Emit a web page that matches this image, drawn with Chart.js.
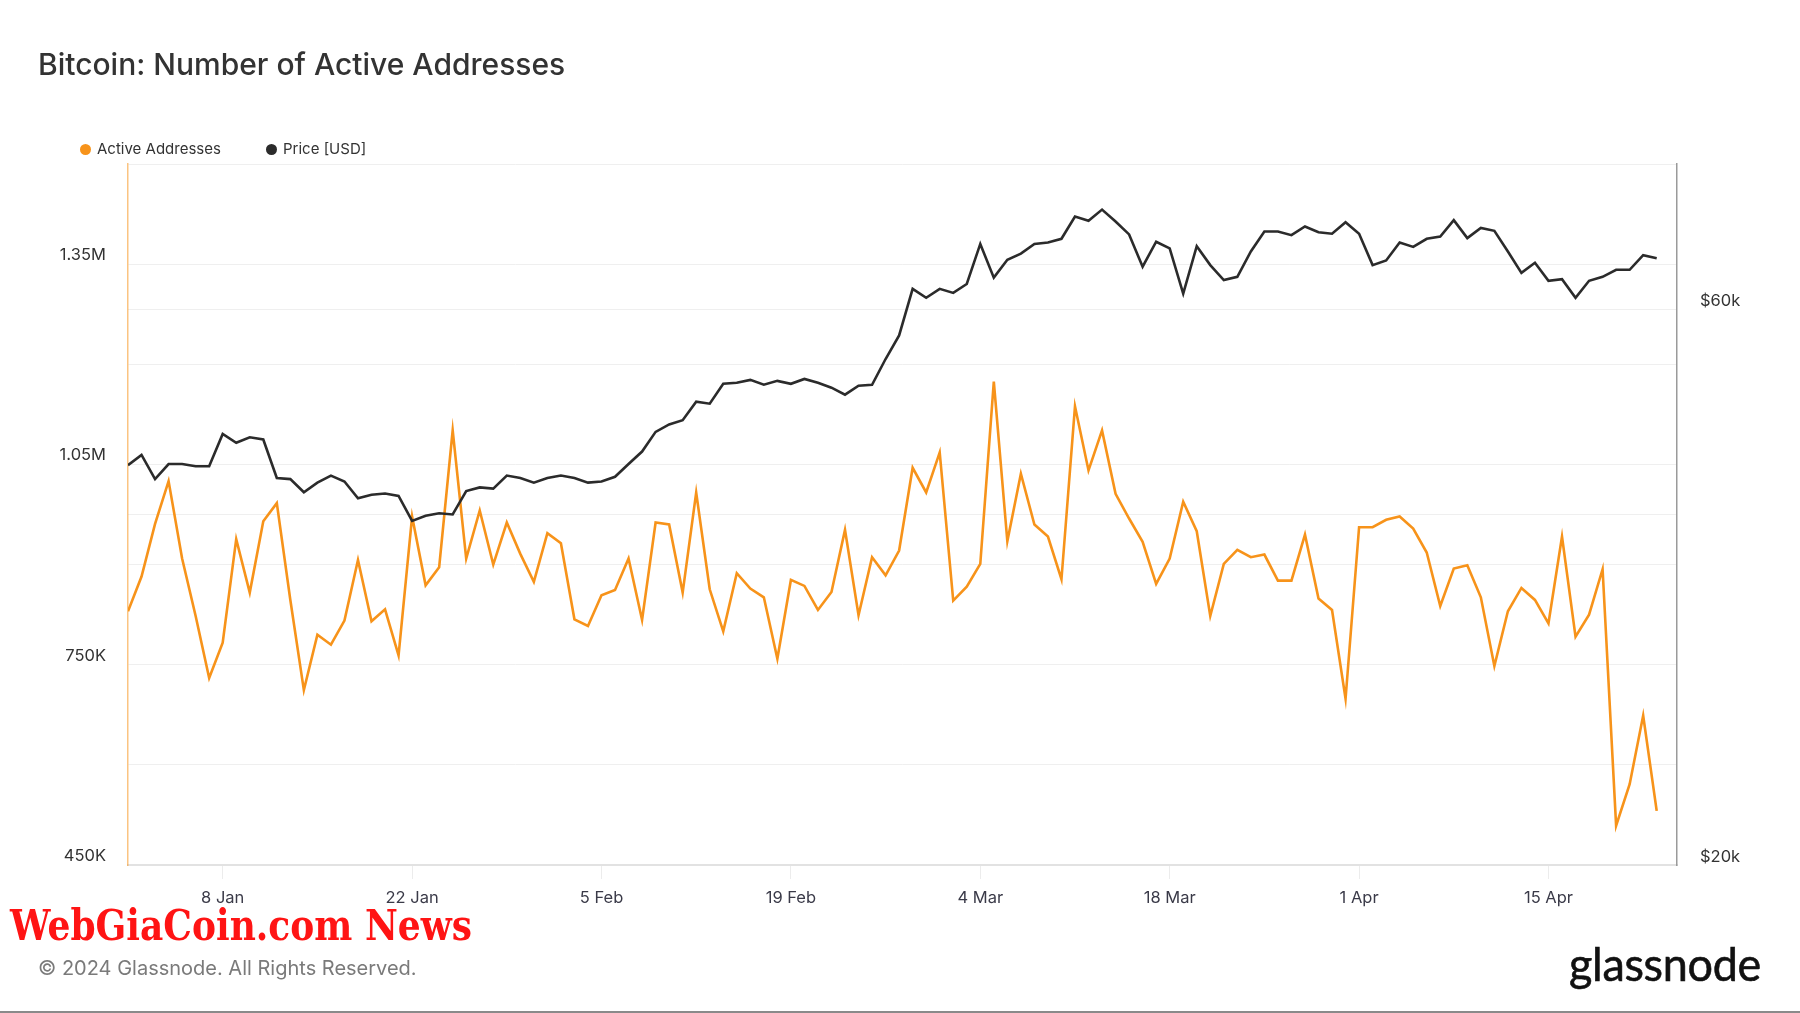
<!DOCTYPE html>
<html>
<head>
<meta charset="utf-8">
<script src="https://cdn.jsdelivr.net/npm/chart.js@4.4.1/dist/chart.umd.min.js"></script>
<style>
  html, body { margin: 0; padding: 0; background: #fff; }
  body { width: 1800px; height: 1013px; position: relative; overflow: hidden; font-family: Inter, "Noto Sans", sans-serif; }
  #c { position: absolute; left: 0; top: 0; }
  .abs { position: absolute; white-space: nowrap; }
  #title { left: 38px; top: 47px; font-size: 30px; line-height: 34px; color: #333; font-weight: 500; }
  .leg { top: 140px; font-size: 15px; line-height: 18px; color: #333; }
  .dot { display: inline-block; width: 11px; height: 11px; border-radius: 50%; margin-right: 6px; vertical-align: -1px; }
  #wm { left: 10px; top: 899px; font-family: "DejaVu Serif", serif; font-weight: bold; font-size: 43px; line-height: 52px; color: #ff1414; transform-origin: 0 0; }
  #copy { left: 38px; top: 955px; font-size: 20px; line-height: 26px; color: #7a7a7a; }
  #logo { left: 1569px; top: 938px; font-family: Lato, Inter, sans-serif; font-weight: 400; font-size: 46px; line-height: 52px; color: #111; letter-spacing: -0.3px; transform-origin: 0 0; -webkit-text-stroke: 0.6px #111; }
  #bottomline { left: 0; top: 1011px; width: 1800px; height: 2px; background: #8a8a8a; }
</style>
</head>
<body>
<canvas id="c" width="1800" height="1013"></canvas>
<div id="title" class="abs">Bitcoin: Number of Active Addresses</div>
<div class="abs leg" style="left:80px"><span class="dot" style="background:#f7931a"></span>Active Addresses</div>
<div class="abs leg" style="left:266px"><span class="dot" style="background:#2b2b2b"></span>Price [USD]</div>
<div id="wm" class="abs">WebGiaCoin.com News</div>
<div id="copy" class="abs">© 2024 Glassnode. All Rights Reserved.</div>
<div id="logo" class="abs">glassnode</div>
<div id="bottomline" class="abs"></div>
<script>
// ---- Data ----
const dates = [
  '2024-01-01','2024-01-02','2024-01-03','2024-01-04','2024-01-05','2024-01-06','2024-01-07','2024-01-08','2024-01-09','2024-01-10',
  '2024-01-11','2024-01-12','2024-01-13','2024-01-14','2024-01-15','2024-01-16','2024-01-17','2024-01-18','2024-01-19','2024-01-20',
  '2024-01-21','2024-01-22','2024-01-23','2024-01-24','2024-01-25','2024-01-26','2024-01-27','2024-01-28','2024-01-29','2024-01-30',
  '2024-01-31','2024-02-01','2024-02-02','2024-02-03','2024-02-04','2024-02-05','2024-02-06','2024-02-07','2024-02-08','2024-02-09',
  '2024-02-10','2024-02-11','2024-02-12','2024-02-13','2024-02-14','2024-02-15','2024-02-16','2024-02-17','2024-02-18','2024-02-19',
  '2024-02-20','2024-02-21','2024-02-22','2024-02-23','2024-02-24','2024-02-25','2024-02-26','2024-02-27','2024-02-28','2024-02-29',
  '2024-03-01','2024-03-02','2024-03-03','2024-03-04','2024-03-05','2024-03-06','2024-03-07','2024-03-08','2024-03-09','2024-03-10',
  '2024-03-11','2024-03-12','2024-03-13','2024-03-14','2024-03-15','2024-03-16','2024-03-17','2024-03-18','2024-03-19','2024-03-20',
  '2024-03-21','2024-03-22','2024-03-23','2024-03-24','2024-03-25','2024-03-26','2024-03-27','2024-03-28','2024-03-29','2024-03-30',
  '2024-03-31','2024-04-01','2024-04-02','2024-04-03','2024-04-04','2024-04-05','2024-04-06','2024-04-07','2024-04-08','2024-04-09',
  '2024-04-10','2024-04-11','2024-04-12','2024-04-13','2024-04-14','2024-04-15','2024-04-16','2024-04-17','2024-04-18','2024-04-19',
  '2024-04-20','2024-04-21','2024-04-22','2024-04-23'
];

const activeAddresses = [
  830000, 882000, 961000, 1025000, 909000, 823000, 730000, 783000, 938000, 858000,
  965000, 992000, 847000, 712000, 795000, 780000, 816000, 907000, 815000, 833000,
  764000, 972000, 869000, 896000, 1101000, 909000, 981000, 900000, 963000, 916000,
  874000, 947000, 932000, 818000, 808000, 854000, 862000, 909000, 817000, 963000,
  960000, 858000, 1008000, 863000, 800000, 887000, 864000, 851000, 759000, 877000,
  868000, 832000, 859000, 952000, 824000, 911000, 884000, 921000, 1045000, 1008000,
  1068000, 846000, 867000, 901000, 1174000, 935000, 1036000, 960000, 942000, 878000,
  1137000, 1041000, 1101000, 1006000, 969000, 934000, 871000, 909000, 994000, 950000,
  823000, 901000, 922000, 911000, 915000, 876000, 876000, 945000, 849000, 832000,
  699000, 956000, 956000, 967000, 972000, 954000, 918000, 838000, 894000, 899000,
  851000, 748000, 830000, 865000, 847000, 812000, 942000, 792000, 825000, 893000,
  509000, 571000, 674000, 531000
];

const priceUSD = [
  44100, 45000, 42900, 44200, 44200, 44000, 44000, 46900, 46100, 46600,
  46400, 43000, 42900, 41800, 42600, 43200, 42700, 41300, 41600, 41700,
  41500, 39500, 39900, 40100, 40000, 41900, 42200, 42100, 43200, 43000,
  42600, 43000, 43200, 43000, 42600, 42700, 43100, 44200, 45300, 47100,
  47800, 48200, 50000, 49800, 51800, 51900, 52200, 51700, 52100, 51800,
  52300, 51900, 51400, 50700, 51600, 51700, 54400, 57000, 62500, 61400,
  62500, 62000, 63100, 68300, 63900, 66200, 67000, 68300, 68500, 69000,
  72100, 71500, 73100, 71400, 69600, 65300, 68600, 67700, 61900, 68000,
  65500, 63600, 64000, 67300, 70000, 70000, 69500, 70700, 69900, 69700,
  71300, 69700, 65500, 66100, 68500, 67900, 69000, 69300, 71600, 69100,
  70500, 70100, 67300, 64500, 65800, 63500, 63700, 61400, 63500, 64000,
  64900, 64900, 66800, 66400
];

const xTickDates  = ['2024-01-08','2024-01-22','2024-02-05','2024-02-19','2024-03-04','2024-03-18','2024-04-01','2024-04-15'];
const xTickLabels = ['8 Jan','22 Jan','5 Feb','19 Feb','4 Mar','18 Mar','1 Apr','15 Apr'];

const leftTickValues = [450000, 750000, 1050000, 1350000];
const leftTickLabels = ['450K', '750K', '1.05M', '1.35M'];

const priceTickValues = [20000, 40000, 60000];
const priceTickLabels = ['$20k', '', '$60k'];

// fit decorative texts to the reference widths
function fitWidth(id, target) {
  const el = document.getElementById(id);
  const w = el.getBoundingClientRect().width;
  if (w > 0) el.style.transform = 'scaleX(' + (target / w) + ')';
}
fitWidth('wm', 462);
fitWidth('logo', 192);

// ---- Chart ----
const axisFont = { family: 'Inter', size: 16.5 };
const gridColor = '#efefef';

new Chart(document.getElementById('c'), {
  type: 'line',
  data: {
    datasets: [
      {
        label: 'Price [USD]',
        data: dates.map((d, i) => ({ x: i, y: priceUSD[i] })),
        yAxisID: 'yPrice',
        borderColor: '#2b2b2b',
        borderWidth: 2.6,
        pointRadius: 0,
        tension: 0,
        order: 0
      },
      {
        label: 'Active Addresses',
        data: dates.map((d, i) => ({ x: i, y: activeAddresses[i] })),
        yAxisID: 'yAA',
        borderColor: '#f7931a',
        borderWidth: 2.6,
        pointRadius: 0,
        tension: 0,
        order: 1
      }
    ]
  },
  options: {
    responsive: false,
    animation: false,
    devicePixelRatio: 1,
    layout: { padding: { top: 164, left: 0, right: 0, bottom: 0 } },
    plugins: { legend: { display: false }, tooltip: { enabled: false } },
    scales: {
      x: {
        type: 'linear',
        min: 0,
        max: 114.5,
        afterFit: s => { s.height = 148; },
        afterBuildTicks: s => {
          s.ticks = xTickDates.map(d => ({ value: dates.indexOf(d) }));
        },
        ticks: {
          autoSkip: false,
          maxRotation: 0,
          padding: 9,
          color: '#3a3a48',
          font: axisFont,
          callback: (v) => {
            const k = xTickDates.findIndex(d => dates.indexOf(d) === v);
            return k >= 0 ? xTickLabels[k] : '';
          }
        },
        grid: { drawOnChartArea: false, drawTicks: true, tickLength: 14, color: '#ececec' },
        border: { display: true, color: '#e2e2e2', width: 2 }
      },
      yAA: {
        type: 'linear',
        position: 'left',
        min: 450000,
        max: 1500000,
        afterFit: s => { s.width = 128; },
        ticks: {
          stepSize: 150000,
          autoSkip: false,
          padding: 22,
          labelOffset: -9,
          color: '#333',
          font: axisFont,
          callback: (v) => {
            const k = leftTickValues.indexOf(v);
            return k >= 0 ? leftTickLabels[k] : '';
          }
        },
        grid: { color: gridColor, drawTicks: false, lineWidth: 1 },
        border: { display: true, color: 'rgba(247,147,26,0.55)', width: 1.5 }
      },
      yPrice: {
        type: 'logarithmic',
        position: 'right',
        min: 20000,
        max: 80000,
        afterFit: s => { s.width = 123; },
        afterBuildTicks: s => {
          s.ticks = priceTickValues.map(v => ({ value: v }));
        },
        ticks: {
          autoSkip: false,
          padding: 23,
          labelOffset: -8,
          color: '#333',
          font: axisFont,
          callback: (v) => {
            const k = priceTickValues.indexOf(v);
            return k >= 0 ? priceTickLabels[k] : '';
          }
        },
        grid: { color: gridColor, drawTicks: false, lineWidth: 1 },
        border: { display: true, color: '#9a9a9a', width: 1.5 }
      }
    }
  }
});
</script>
</body>
</html>
